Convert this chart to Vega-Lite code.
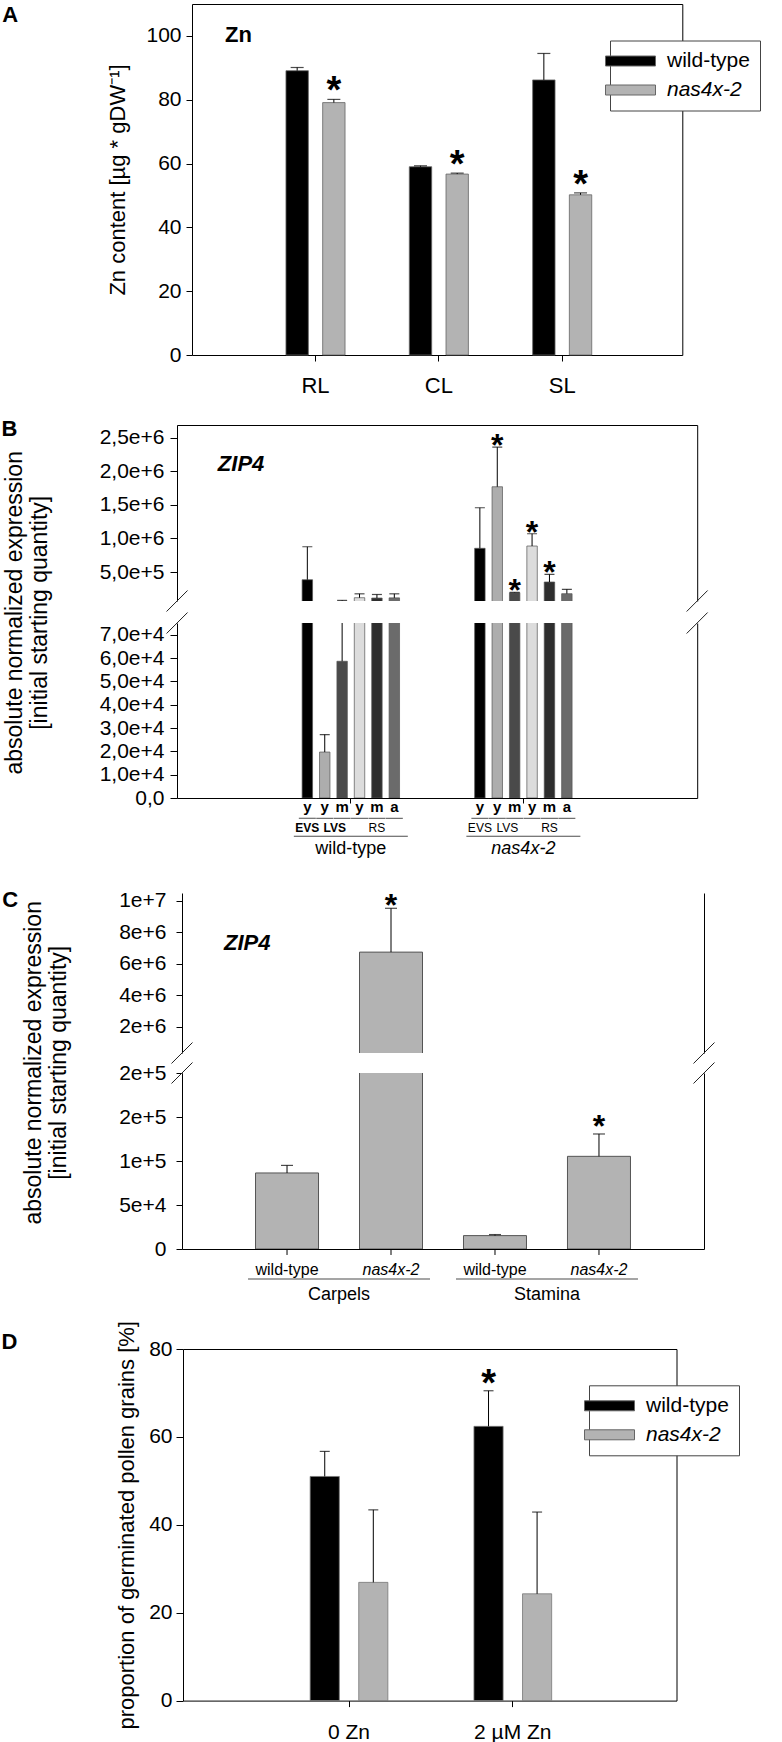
{
  "$schema": "https://vega.github.io/schema/vega-lite/v6.json",
  "background": "white",
  "padding": {"left": 1, "top": 3, "right": 0, "bottom": 0},
  "config": {
    "font": "Liberation Sans",
    "view": {"stroke": null},
    "axis": {"labelColor": "#000", "tickColor": "#000", "domainColor": "#000", "titleColor": "#000", "titleFontWeight": "normal", "labelOverlap": false, "grid": false, "labelFont": "Liberation Sans", "titleFont": "Liberation Sans"},
    "title": {"font": "Liberation Sans", "color": "#000"},
    "text": {"font": "Liberation Sans", "color": "#000"}
  },
  "datasets": {
    "zipB": [
      {"genotype": "wild-type", "bar": "EVS-y", "age": "y", "mean": 385000, "upper": 876000, "sig": false},
      {"genotype": "wild-type", "bar": "LVS-y", "age": "y", "mean": 19700, "upper": 27200, "sig": false},
      {"genotype": "wild-type", "bar": "LVS-m", "age": "m", "mean": 58600, "upper": 77000, "sig": false},
      {"genotype": "wild-type", "bar": "RS-y", "age": "y", "mean": 117000, "upper": 175000, "sig": false},
      {"genotype": "wild-type", "bar": "RS-m", "age": "m", "mean": 112000, "upper": 165000, "sig": false},
      {"genotype": "wild-type", "bar": "RS-a", "age": "a", "mean": 115000, "upper": 175000, "sig": false},
      {"genotype": "nas4x-2", "bar": "EVS-y", "age": "y", "mean": 853000, "upper": 1457000, "sig": false},
      {"genotype": "nas4x-2", "bar": "LVS-y", "age": "y", "mean": 1770000, "upper": 2360000, "sig": true},
      {"genotype": "nas4x-2", "bar": "LVS-m", "age": "m", "mean": 192000, "upper": 198000, "sig": true},
      {"genotype": "nas4x-2", "bar": "RS-y", "age": "y", "mean": 887000, "upper": 1070000, "sig": true},
      {"genotype": "nas4x-2", "bar": "RS-m", "age": "m", "mean": 351000, "upper": 465000, "sig": true},
      {"genotype": "nas4x-2", "bar": "RS-a", "age": "a", "mean": 177000, "upper": 242000, "sig": false}
    ],
    "stageB": [
      {"genotype": "wild-type", "stage": "EVS", "bar": "EVS-y"},
      {"genotype": "wild-type", "stage": "LVS", "bar": "LVS-y"},
      {"genotype": "wild-type", "stage": "RS", "bar": "RS-m"},
      {"genotype": "nas4x-2", "stage": "EVS", "bar": "EVS-y"},
      {"genotype": "nas4x-2", "stage": "LVS", "bar": "LVS-y"},
      {"genotype": "nas4x-2", "stage": "RS", "bar": "RS-m"}
    ],
    "zipC": [
      {"tissue": "Carpels", "genotype": "wild-type", "mean": 86400, "upper": 95000, "sig": false},
      {"tissue": "Carpels", "genotype": "nas4x-2", "mean": 6750000, "upper": 9530000, "sig": true},
      {"tissue": "Stamina", "genotype": "wild-type", "mean": 15200, "upper": 16400, "sig": false},
      {"tissue": "Stamina", "genotype": "nas4x-2", "mean": 105300, "upper": 130700, "sig": true}
    ],
    "brk": [{"mark": "axis break"}]
  },
  "resolve": {"scale": {"color": "independent", "xOffset": "independent"}, "legend": {"color": "independent"}},
  "bounds": "flush",
  "spacing": 0,
  "vconcat": [
    {
      "bounds": "flush", "spacing": 0,
      "hconcat": [
        {"width": 14.2, "height": 351, "data": {"values": []}, "mark": "point"},
        {
          "width": 490.3, "height": 351,
          "view": {"stroke": "#000", "strokeWidth": 1},
          "title": {"text": "A", "anchor": "start", "frame": "group", "dx": -189.7, "offset": -45.4, "baseline": "bottom", "fontSize": 22, "fontWeight": "bold"},
          "data": {"values": [
            {"tissue": "RL", "genotype": "wild-type", "mean": 89.1, "upper": 90.1, "sig": false},
            {"tissue": "RL", "genotype": "nas4x-2", "mean": 79.1, "upper": 80.1, "sig": true},
            {"tissue": "CL", "genotype": "wild-type", "mean": 59.0, "upper": 59.3, "sig": false},
            {"tissue": "CL", "genotype": "nas4x-2", "mean": 56.7, "upper": 57.0, "sig": true},
            {"tissue": "SL", "genotype": "wild-type", "mean": 86.2, "upper": 94.5, "sig": false},
            {"tissue": "SL", "genotype": "nas4x-2", "mean": 50.2, "upper": 50.8, "sig": true}
          ]},
          "layer": [
            {
              "mark": {"type": "bar", "stroke": "#666", "strokeWidth": 0.8},
              "encoding": {
                "x": {"field": "tissue", "type": "nominal", "sort": ["RL", "CL", "SL"], "scale": {"paddingInner": 0.405, "paddingOuter": 0.69, "align": 0.51}, "axis": {"title": null, "labelAngle": 0, "labelFontSize": 22, "labelPadding": 14, "tickSize": 6, "domain": false}},
                "xOffset": {"field": "genotype", "type": "nominal", "sort": ["wild-type", "nas4x-2"], "scale": {"paddingInner": 0.39, "paddingOuter": 0.195}},
                "y": {"field": "mean", "type": "quantitative", "scale": {"domain": [0, 110], "nice": false, "zero": false}, "axis": {"title": "Zn content [µg * gDW⁻¹]", "values": [0, 20, 40, 60, 80, 100], "labelOverlap": false, "tickSize": 6, "labelPadding": 5, "labelFontSize": 21, "titleFontSize": 22, "titlePadding": 16, "domain": false}},
                "color": {"field": "genotype", "type": "nominal", "scale": {"domain": ["wild-type", "nas4x-2"], "range": ["#000000", "#b3b3b3"]}, "legend": {"orient": "none", "legendX": 433, "legendY": 36.5, "title": null, "symbolType": "M-2.5,-0.5H2.5V0.5H-2.5Z", "symbolSize": 400, "symbolStrokeColor": "#666", "symbolStrokeWidth": 1, "labelFontSize": 21, "labelOffset": 26, "rowPadding": 7, "padding": 10, "strokeColor": "#444", "fillColor": "white", "labelFontStyle": {"expr": "datum.value == 'nas4x-2' ? 'italic' : 'normal'"}}}
              }
            },
            {
              "mark": {"type": "rule", "color": "#000", "strokeWidth": 1},
              "encoding": {
                "x": {"field": "tissue", "type": "nominal", "sort": ["RL", "CL", "SL"]},
                "xOffset": {"field": "genotype", "type": "nominal", "sort": ["wild-type", "nas4x-2"]},
                "y": {"field": "mean", "type": "quantitative"},
                "y2": {"field": "upper"}
              }
            },
            {
              "mark": {"type": "tick", "orient": "horizontal", "size": 13, "thickness": 1.2, "color": "#000"},
              "encoding": {
                "x": {"field": "tissue", "type": "nominal", "sort": ["RL", "CL", "SL"]},
                "xOffset": {"field": "genotype", "type": "nominal", "sort": ["wild-type", "nas4x-2"]},
                "y": {"field": "upper", "type": "quantitative"}
              }
            },
            {
              "transform": [{"filter": "datum.sig"}],
              "mark": {"type": "text", "text": "*", "fontSize": 38, "fontWeight": "bold", "baseline": "alphabetic", "dy": 4},
              "encoding": {
                "x": {"field": "tissue", "type": "nominal", "sort": ["RL", "CL", "SL"]},
                "xOffset": {"field": "genotype", "type": "nominal", "sort": ["wild-type", "nas4x-2"]},
                "y": {"field": "upper", "type": "quantitative"}
              }
            },
            {
              "data": {"values": [{"label": "Zn"}]},
              "mark": {"type": "text", "fontSize": 22, "fontWeight": "bold", "align": "left", "baseline": "alphabetic", "dx": -90.5},
              "encoding": {
                "x": {"datum": "RL", "type": "nominal"},
                "y": {"datum": 98.2, "type": "quantitative"},
                "text": {"field": "label"}
              }
            }
          ]
        }
      ]
    },
    {"width": 1, "height": 420.5, "data": {"values": []}, "mark": "point"},
    {
      "width": 520.2, "height": 176,
      "view": {"stroke": "#000", "strokeWidth": 1, "strokeDash": [696.2, 520.2, 176]},
      "title": {"text": "B", "anchor": "start", "frame": "group", "dx": -175.5, "offset": -38.4, "baseline": "bottom", "fontSize": 22, "fontWeight": "bold"},
      "data": {"name": "zipB"},
      "layer": [
        {
          "mark": {"type": "bar", "clip": true, "stroke": "#555", "strokeWidth": 0.7},
          "encoding": {
            "x": {"field": "genotype", "type": "nominal", "sort": ["wild-type", "nas4x-2"], "scale": {"paddingInner": 0.395, "paddingOuter": 0.705, "align": 0.5}, "axis": null},
            "xOffset": {"field": "bar", "type": "nominal", "sort": ["EVS-y", "LVS-y", "LVS-m", "RS-y", "RS-m", "RS-a"], "scale": {"paddingInner": 0.4, "paddingOuter": 0.2}},
            "y": {"field": "mean", "type": "quantitative", "scale": {"domain": [68000, 2690000], "nice": false, "zero": false}, "axis": {"title": null, "values": [500000, 1000000, 1500000, 2000000, 2500000], "labelOverlap": false, "labelExpr": "replace(format(datum.value, '.1e'), '.', ',')", "labelFontSize": 21, "tickSize": 7, "labelPadding": 6, "domain": false}},
            "color": {"field": "bar", "type": "nominal", "scale": {"domain": ["EVS-y", "LVS-y", "LVS-m", "RS-y", "RS-m", "RS-a"], "range": ["#000000", "#adadad", "#4a4a4a", "#dcdcdc", "#2e2e2e", "#6b6b6b"]}, "legend": null}
          }
        },
        {
          "mark": {"type": "rule", "clip": true, "color": "#000", "strokeWidth": 1},
          "encoding": {
            "x": {"field": "genotype", "type": "nominal", "sort": ["wild-type", "nas4x-2"]},
            "xOffset": {"field": "bar", "type": "nominal", "sort": ["EVS-y", "LVS-y", "LVS-m", "RS-y", "RS-m", "RS-a"]},
            "y": {"field": "mean", "type": "quantitative"},
            "y2": {"field": "upper"}
          }
        },
        {
          "mark": {"type": "tick", "clip": true, "orient": "horizontal", "size": 10, "thickness": 1.2, "color": "#000"},
          "encoding": {
            "x": {"field": "genotype", "type": "nominal", "sort": ["wild-type", "nas4x-2"]},
            "xOffset": {"field": "bar", "type": "nominal", "sort": ["EVS-y", "LVS-y", "LVS-m", "RS-y", "RS-m", "RS-a"]},
            "y": {"field": "upper", "type": "quantitative"}
          }
        },
        {
          "transform": [{"filter": "datum.sig"}],
          "mark": {"type": "text", "text": "*", "fontSize": 32, "fontWeight": "bold", "baseline": "alphabetic", "dy": 9},
          "encoding": {
            "x": {"field": "genotype", "type": "nominal", "sort": ["wild-type", "nas4x-2"]},
            "xOffset": {"field": "bar", "type": "nominal", "sort": ["EVS-y", "LVS-y", "LVS-m", "RS-y", "RS-m", "RS-a"]},
            "y": {"field": "upper", "type": "quantitative"}
          }
        },
        {
          "data": {"values": [{"label": "ZIP4"}]},
          "mark": {"type": "text", "fontSize": 22, "fontWeight": "bold", "fontStyle": "italic", "align": "left", "baseline": "middle", "dx": -133},
          "encoding": {
            "x": {"datum": "wild-type", "type": "nominal"},
            "y": {"datum": 2108000, "type": "quantitative"},
            "text": {"field": "label"}
          }
        },
        {
          "data": {"name": "brk"},
          "mark": {"type": "rule", "color": "#222", "strokeWidth": 1},
          "encoding": {
            "x": {"datum": "wild-type", "type": "nominal", "bandPosition": -1.2653},
            "x2": {"datum": "wild-type", "bandPosition": -1.0642},
            "y": {"datum": -88500, "type": "quantitative"},
            "y2": {"datum": 224500}
          }
        },
        {
          "data": {"name": "brk"},
          "mark": {"type": "rule", "color": "#222", "strokeWidth": 1},
          "encoding": {
            "x": {"datum": "nas4x-2", "type": "nominal", "bandPosition": 2.0642},
            "x2": {"datum": "nas4x-2", "bandPosition": 2.2653},
            "y": {"datum": -88500, "type": "quantitative"},
            "y2": {"datum": 224500}
          }
        }
      ]
    },
    {"width": 1, "height": 21.7, "data": {"values": []}, "mark": "point"},
    {
      "width": 520.2, "height": 175,
      "view": {"stroke": "#000", "strokeWidth": 1, "strokeDash": [0, 520.2, 870.2]},
      "data": {"name": "zipB"},
      "resolve": {"axis": {"y": "independent"}},
      "layer": [
        {
          "mark": {"type": "bar", "clip": true, "stroke": "#555", "strokeWidth": 0.7},
          "encoding": {
            "x": {"field": "genotype", "type": "nominal", "sort": ["wild-type", "nas4x-2"], "scale": {"paddingInner": 0.395, "paddingOuter": 0.705, "align": 0.5}, "axis": {"title": null, "labelAngle": 0, "labelFontSize": 18, "labelPadding": 36.8, "tickSize": 5, "domain": false, "labelFontStyle": {"condition": {"test": "datum.value == 'nas4x-2'", "value": "italic"}, "value": "normal"}}},
            "xOffset": {"field": "bar", "type": "nominal", "sort": ["EVS-y", "LVS-y", "LVS-m", "RS-y", "RS-m", "RS-a"], "scale": {"paddingInner": 0.4, "paddingOuter": 0.2}},
            "y": {"field": "mean", "type": "quantitative", "scale": {"domain": [0, 75000], "nice": false, "zero": false}, "axis": {"orient": "left", "title": ["absolute normalized expression", "[initial starting quantity]"], "titleFontSize": 23, "titleLineHeight": 25, "titleY": -10.7, "titlePadding": 48, "values": [0, 20000, 40000, 60000], "labelOverlap": false, "labelExpr": "datum.value == 0 ? '0,0' : replace(format(datum.value, '.1e'), '.', ',')", "labelFontSize": 21, "tickSize": 7, "labelPadding": 6, "domain": false}},
            "color": {"field": "bar", "type": "nominal", "scale": {"domain": ["EVS-y", "LVS-y", "LVS-m", "RS-y", "RS-m", "RS-a"], "range": ["#000000", "#adadad", "#4a4a4a", "#dcdcdc", "#2e2e2e", "#6b6b6b"]}, "legend": null}
          }
        },
        {
          "mark": {"type": "rule", "clip": true, "color": "#000", "strokeWidth": 1},
          "encoding": {
            "x": {"field": "genotype", "type": "nominal", "sort": ["wild-type", "nas4x-2"]},
            "xOffset": {"field": "bar", "type": "nominal", "sort": ["EVS-y", "LVS-y", "LVS-m", "RS-y", "RS-m", "RS-a"]},
            "y": {"field": "mean", "type": "quantitative", "axis": {"orient": "left", "title": null, "values": [10000, 30000, 50000, 70000], "labelOverlap": false, "labelExpr": "replace(format(datum.value, '.1e'), '.', ',')", "labelFontSize": 21, "tickSize": 7, "labelPadding": 6, "domain": false}},
            "y2": {"field": "upper"}
          }
        },
        {
          "mark": {"type": "tick", "clip": true, "orient": "horizontal", "size": 10, "thickness": 1.2, "color": "#000"},
          "encoding": {
            "x": {"field": "genotype", "type": "nominal", "sort": ["wild-type", "nas4x-2"]},
            "xOffset": {"field": "bar", "type": "nominal", "sort": ["EVS-y", "LVS-y", "LVS-m", "RS-y", "RS-m", "RS-a"]},
            "y": {"field": "upper", "type": "quantitative", "axis": null}
          }
        },
        {
          "mark": {"type": "text", "fontSize": 15, "fontWeight": "bold", "baseline": "alphabetic"},
          "encoding": {
            "x": {"field": "genotype", "type": "nominal", "sort": ["wild-type", "nas4x-2"]},
            "xOffset": {"field": "bar", "type": "nominal", "sort": ["EVS-y", "LVS-y", "LVS-m", "RS-y", "RS-m", "RS-a"]},
            "y": {"datum": -6127, "type": "quantitative", "axis": null},
            "text": {"field": "age"}
          }
        },
        {
          "mark": {"type": "tick", "orient": "horizontal", "size": 17, "thickness": 1, "color": "#000"},
          "encoding": {
            "x": {"field": "genotype", "type": "nominal", "sort": ["wild-type", "nas4x-2"]},
            "xOffset": {"field": "bar", "type": "nominal", "sort": ["EVS-y", "LVS-y", "LVS-m", "RS-y", "RS-m", "RS-a"]},
            "y": {"datum": -8700, "type": "quantitative", "axis": null}
          }
        },
        {
          "data": {"name": "stageB"},
          "mark": {"type": "text", "fontSize": 12, "baseline": "alphabetic", "fontWeight": {"expr": "datum.genotype == 'wild-type' && datum.stage != 'RS' ? 'bold' : 'normal'"}, "dx": {"expr": "datum.stage == 'LVS' ? 10 : 0"}},
          "encoding": {
            "x": {"field": "genotype", "type": "nominal", "sort": ["wild-type", "nas4x-2"]},
            "xOffset": {"field": "bar", "type": "nominal", "sort": ["EVS-y", "LVS-y", "LVS-m", "RS-y", "RS-m", "RS-a"]},
            "y": {"datum": -14567, "type": "quantitative", "axis": null},
            "text": {"field": "stage"}
          }
        },
        {
          "data": {"values": [{"genotype": "wild-type"}, {"genotype": "nas4x-2"}]},
          "mark": {"type": "tick", "orient": "horizontal", "size": 114, "thickness": 1, "color": "#000"},
          "encoding": {
            "x": {"field": "genotype", "type": "nominal", "sort": ["wild-type", "nas4x-2"]},
            "y": {"datum": -16410, "type": "quantitative", "axis": null}
          }
        },
        {
          "data": {"name": "brk"},
          "mark": {"type": "rule", "color": "#222", "strokeWidth": 1},
          "encoding": {
            "x": {"datum": "wild-type", "type": "nominal", "bandPosition": -1.2653},
            "x2": {"datum": "wild-type", "bandPosition": -1.0642},
            "y": {"datum": 70500, "type": "quantitative", "axis": null},
            "y2": {"datum": 79500}
          }
        },
        {
          "data": {"name": "brk"},
          "mark": {"type": "rule", "color": "#222", "strokeWidth": 1},
          "encoding": {
            "x": {"datum": "nas4x-2", "type": "nominal", "bandPosition": 2.0642},
            "x2": {"datum": "nas4x-2", "bandPosition": 2.2653},
            "y": {"datum": 70500, "type": "quantitative", "axis": null},
            "y2": {"datum": 79500}
          }
        }
      ]
    },
    {"width": 1, "height": 95, "data": {"values": []}, "mark": "point"},
    {
      "bounds": "flush", "spacing": 0,
      "hconcat": [
        {"width": 4.2, "height": 160, "data": {"values": []}, "mark": "point"},
        {
          "width": 522, "height": 160,
          "view": {"stroke": "#000", "strokeWidth": 1, "strokeDash": [0, 522, 160, 522, 160]},
          "title": {"text": "C", "anchor": "start", "frame": "group", "dx": -179.7, "offset": -44, "baseline": "bottom", "fontSize": 22, "fontWeight": "bold"},
          "data": {"name": "zipC"},
          "resolve": {"axis": {"y": "independent"}},
          "layer": [
            {
              "mark": {"type": "bar", "clip": true, "color": "#b3b3b3", "stroke": "#555", "strokeWidth": 1},
              "encoding": {
                "x": {"field": "tissue", "type": "nominal", "sort": ["Carpels", "Stamina"], "scale": {"paddingInner": 0, "paddingOuter": 0.255, "align": 0.5}, "axis": null},
                "xOffset": {"field": "genotype", "type": "nominal", "sort": ["wild-type", "nas4x-2"], "scale": {"paddingInner": 0.394, "paddingOuter": 0.197}},
                "y": {"field": "mean", "type": "quantitative", "scale": {"domain": [350000, 10500000], "nice": false, "zero": false}, "axis": {"orient": "left", "title": null, "values": [2000000, 6000000, 10000000], "labelOverlap": false, "labelExpr": "format(datum.value, '.0e')", "labelFontSize": 21, "tickSize": 6, "labelPadding": 10, "domain": false}}
              }
            },
            {
              "mark": {"type": "rule", "clip": true, "color": "#000", "strokeWidth": 1},
              "encoding": {
                "x": {"field": "tissue", "type": "nominal", "sort": ["Carpels", "Stamina"]},
                "xOffset": {"field": "genotype", "type": "nominal", "sort": ["wild-type", "nas4x-2"]},
                "y": {"field": "mean", "type": "quantitative", "axis": {"orient": "left", "title": null, "values": [4000000, 8000000], "labelOverlap": false, "labelExpr": "format(datum.value, '.0e')", "labelFontSize": 21, "tickSize": 6, "labelPadding": 10, "domain": false}},
                "y2": {"field": "upper"}
              }
            },
            {
              "mark": {"type": "tick", "clip": true, "orient": "horizontal", "size": 12, "thickness": 1.2, "color": "#000"},
              "encoding": {
                "x": {"field": "tissue", "type": "nominal", "sort": ["Carpels", "Stamina"]},
                "xOffset": {"field": "genotype", "type": "nominal", "sort": ["wild-type", "nas4x-2"]},
                "y": {"field": "upper", "type": "quantitative", "axis": null}
              }
            },
            {
              "transform": [{"filter": "datum.sig && datum.upper > 350000"}],
              "mark": {"type": "text", "text": "*", "fontSize": 32, "fontWeight": "bold", "baseline": "alphabetic", "dy": 7.6},
              "encoding": {
                "x": {"field": "tissue", "type": "nominal", "sort": ["Carpels", "Stamina"]},
                "xOffset": {"field": "genotype", "type": "nominal", "sort": ["wild-type", "nas4x-2"]},
                "y": {"field": "upper", "type": "quantitative", "axis": null}
              }
            },
            {
              "data": {"values": [{"label": "ZIP4"}]},
              "mark": {"type": "text", "fontSize": 22, "fontWeight": "bold", "fontStyle": "italic", "align": "left", "baseline": "middle", "dx": -115},
              "encoding": {
                "x": {"datum": "Carpels", "type": "nominal"},
                "y": {"datum": 7320000, "type": "quantitative", "axis": null},
                "text": {"field": "label"}
              }
            },
            {
              "data": {"name": "brk"},
              "mark": {"type": "rule", "color": "#222", "strokeWidth": 1},
              "encoding": {
                "x": {"datum": "Carpels", "type": "nominal", "bandPosition": -0.3055},
                "x2": {"datum": "Carpels", "bandPosition": -0.2045},
                "y": {"datum": -316000, "type": "quantitative", "axis": null},
                "y2": {"datum": 1016000}
              }
            },
            {
              "data": {"name": "brk"},
              "mark": {"type": "rule", "color": "#222", "strokeWidth": 1},
              "encoding": {
                "x": {"datum": "Stamina", "type": "nominal", "bandPosition": 1.2045},
                "x2": {"datum": "Stamina", "bandPosition": 1.3055},
                "y": {"datum": -316000, "type": "quantitative", "axis": null},
                "y2": {"datum": 1016000}
              }
            }
          ]
        }
      ]
    },
    {"width": 1, "height": 180, "data": {"values": []}, "mark": "point"},
    {
      "bounds": "flush", "spacing": 0,
      "hconcat": [
        {"width": 4.2, "height": 176, "data": {"values": []}, "mark": "point"},
        {
          "width": 522, "height": 176,
          "view": {"stroke": "#000", "strokeWidth": 1, "strokeDash": [0, 522, 874]},
          "data": {"name": "zipC"},
          "layer": [
            {
              "mark": {"type": "bar", "clip": true, "color": "#b3b3b3", "stroke": "#555", "strokeWidth": 1},
              "encoding": {
                "x": {"field": "tissue", "type": "nominal", "sort": ["Carpels", "Stamina"], "scale": {"paddingInner": 0, "paddingOuter": 0.255, "align": 0.5}, "axis": {"title": null, "labelAngle": 0, "labelFontSize": 18, "ticks": false, "tickSize": 0, "labelPadding": 36.7, "domain": false}},
                "xOffset": {"field": "genotype", "type": "nominal", "sort": ["wild-type", "nas4x-2"], "scale": {"paddingInner": 0.394, "paddingOuter": 0.197}},
                "y": {"field": "mean", "type": "quantitative", "scale": {"domain": [0, 200000], "nice": false, "zero": false}, "axis": {"title": ["absolute normalized expression", "[initial starting quantity]"], "titleFontSize": 23, "titleLineHeight": 25, "titleY": -10.7, "titlePadding": 48, "values": [0, 50000, 100000, 150000, 200000], "labelOverlap": false, "labelExpr": "datum.value == 0 ? '0' : format(datum.value, '.0e')", "labelFontSize": 21, "tickSize": 6, "labelPadding": 10, "domain": false}}
              }
            },
            {
              "mark": {"type": "rule", "clip": true, "color": "#000", "strokeWidth": 1},
              "encoding": {
                "x": {"field": "tissue", "type": "nominal", "sort": ["Carpels", "Stamina"]},
                "xOffset": {"field": "genotype", "type": "nominal", "sort": ["wild-type", "nas4x-2"]},
                "y": {"field": "mean", "type": "quantitative"},
                "y2": {"field": "upper"}
              }
            },
            {
              "mark": {"type": "tick", "clip": true, "orient": "horizontal", "size": 12, "thickness": 1.2, "color": "#000"},
              "encoding": {
                "x": {"field": "tissue", "type": "nominal", "sort": ["Carpels", "Stamina"]},
                "xOffset": {"field": "genotype", "type": "nominal", "sort": ["wild-type", "nas4x-2"]},
                "y": {"field": "upper", "type": "quantitative"}
              }
            },
            {
              "transform": [{"filter": "datum.sig && datum.upper < 200000"}],
              "mark": {"type": "text", "text": "*", "fontSize": 32, "fontWeight": "bold", "baseline": "alphabetic", "dy": 3},
              "encoding": {
                "x": {"field": "tissue", "type": "nominal", "sort": ["Carpels", "Stamina"]},
                "xOffset": {"field": "genotype", "type": "nominal", "sort": ["wild-type", "nas4x-2"]},
                "y": {"field": "upper", "type": "quantitative"}
              }
            },
            {
              "mark": {"type": "rule", "color": "#000", "strokeWidth": 1},
              "encoding": {
                "x": {"field": "tissue", "type": "nominal", "sort": ["Carpels", "Stamina"]},
                "xOffset": {"field": "genotype", "type": "nominal", "sort": ["wild-type", "nas4x-2"]},
                "y": {"datum": 0, "type": "quantitative"},
                "y2": {"datum": -6800}
              }
            },
            {
              "mark": {"type": "text", "fontSize": 16, "baseline": "alphabetic", "fontStyle": {"expr": "datum.genotype == 'nas4x-2' ? 'italic' : 'normal'"}},
              "encoding": {
                "x": {"field": "tissue", "type": "nominal", "sort": ["Carpels", "Stamina"]},
                "xOffset": {"field": "genotype", "type": "nominal", "sort": ["wild-type", "nas4x-2"]},
                "y": {"datum": -29090, "type": "quantitative"},
                "text": {"field": "genotype"}
              }
            },
            {
              "data": {"values": [{"tissue": "Carpels"}, {"tissue": "Stamina"}]},
              "mark": {"type": "tick", "orient": "horizontal", "size": 182, "thickness": 1, "color": "#000"},
              "encoding": {
                "x": {"field": "tissue", "type": "nominal", "sort": ["Carpels", "Stamina"]},
                "y": {"datum": -34090, "type": "quantitative"}
              }
            },
            {
              "data": {"name": "brk"},
              "mark": {"type": "rule", "color": "#222", "strokeWidth": 1},
              "encoding": {
                "x": {"datum": "Carpels", "type": "nominal", "bandPosition": -0.3055},
                "x2": {"datum": "Carpels", "bandPosition": -0.2045},
                "y": {"datum": 188068, "type": "quantitative"},
                "y2": {"datum": 211932}
              }
            },
            {
              "data": {"name": "brk"},
              "mark": {"type": "rule", "color": "#222", "strokeWidth": 1},
              "encoding": {
                "x": {"datum": "Stamina", "type": "nominal", "bandPosition": 1.2045},
                "x2": {"datum": "Stamina", "bandPosition": 1.3055},
                "y": {"datum": 188068, "type": "quantitative"},
                "y2": {"datum": 211932}
              }
            }
          ]
        }
      ]
    },
    {"width": 1, "height": 276, "data": {"values": []}, "mark": "point"},
    {
      "bounds": "flush", "spacing": 0,
      "hconcat": [
        {"width": 6, "height": 351.6, "data": {"values": []}, "mark": "point"},
        {
          "width": 493.5, "height": 351.6,
          "view": {"stroke": "#000", "strokeWidth": 1},
          "title": {"text": "D", "anchor": "start", "frame": "group", "dx": -181.5, "offset": -55.8, "baseline": "bottom", "fontSize": 22, "fontWeight": "bold"},
          "data": {"values": [
            {"cond": "0 Zn", "genotype": "wild-type", "mean": 51.0, "upper": 56.7, "sig": false},
            {"cond": "0 Zn", "genotype": "nas4x-2", "mean": 26.9, "upper": 43.4, "sig": false},
            {"cond": "2 µM Zn", "genotype": "wild-type", "mean": 62.4, "upper": 70.5, "sig": true},
            {"cond": "2 µM Zn", "genotype": "nas4x-2", "mean": 24.3, "upper": 42.9, "sig": false}
          ]},
          "layer": [
            {
              "mark": {"type": "bar", "stroke": "#777", "strokeWidth": 0.8},
              "encoding": {
                "x": {"field": "cond", "type": "nominal", "sort": ["0 Zn", "2 µM Zn"], "scale": {"paddingInner": 0.407, "paddingOuter": 0.71, "align": 0.505}, "axis": {"title": null, "labelAngle": 0, "labelFontSize": 21, "labelPadding": 14.7, "tickSize": 6, "domain": false}},
                "xOffset": {"field": "genotype", "type": "nominal", "sort": ["wild-type", "nas4x-2"], "scale": {"paddingInner": 0.4, "paddingOuter": 0.2}},
                "y": {"field": "mean", "type": "quantitative", "scale": {"domain": [0, 80], "nice": false, "zero": false}, "axis": {"title": "proportion of germinated pollen grains [%]", "values": [0, 20, 40, 60, 80], "labelOverlap": false, "tickSize": 7, "labelPadding": 4, "labelFontSize": 21, "titleFontSize": 22, "titlePadding": 10, "domain": false}},
                "color": {"field": "genotype", "type": "nominal", "scale": {"domain": ["wild-type", "nas4x-2"], "range": ["#000000", "#b3b3b3"]}, "legend": {"orient": "none", "legendX": 412, "legendY": 36.3, "title": null, "symbolType": "M-2.5,-0.5H2.5V0.5H-2.5Z", "symbolSize": 400, "symbolStrokeColor": "#666", "symbolStrokeWidth": 1, "labelFontSize": 21, "labelOffset": 26, "rowPadding": 7, "padding": 10, "strokeColor": "#444", "fillColor": "white", "labelFontStyle": {"expr": "datum.value == 'nas4x-2' ? 'italic' : 'normal'"}}}
              }
            },
            {
              "mark": {"type": "rule", "color": "#000", "strokeWidth": 1},
              "encoding": {
                "x": {"field": "cond", "type": "nominal", "sort": ["0 Zn", "2 µM Zn"]},
                "xOffset": {"field": "genotype", "type": "nominal", "sort": ["wild-type", "nas4x-2"]},
                "y": {"field": "mean", "type": "quantitative"},
                "y2": {"field": "upper"}
              }
            },
            {
              "mark": {"type": "tick", "orient": "horizontal", "size": 10, "thickness": 1.2, "color": "#000"},
              "encoding": {
                "x": {"field": "cond", "type": "nominal", "sort": ["0 Zn", "2 µM Zn"]},
                "xOffset": {"field": "genotype", "type": "nominal", "sort": ["wild-type", "nas4x-2"]},
                "y": {"field": "upper", "type": "quantitative"}
              }
            },
            {
              "transform": [{"filter": "datum.sig"}],
              "mark": {"type": "text", "text": "*", "fontSize": 38, "fontWeight": "bold", "baseline": "alphabetic", "dy": 5.6},
              "encoding": {
                "x": {"field": "cond", "type": "nominal", "sort": ["0 Zn", "2 µM Zn"]},
                "xOffset": {"field": "genotype", "type": "nominal", "sort": ["wild-type", "nas4x-2"]},
                "y": {"field": "upper", "type": "quantitative"}
              }
            }
          ]
        }
      ]
    }
  ]
}
